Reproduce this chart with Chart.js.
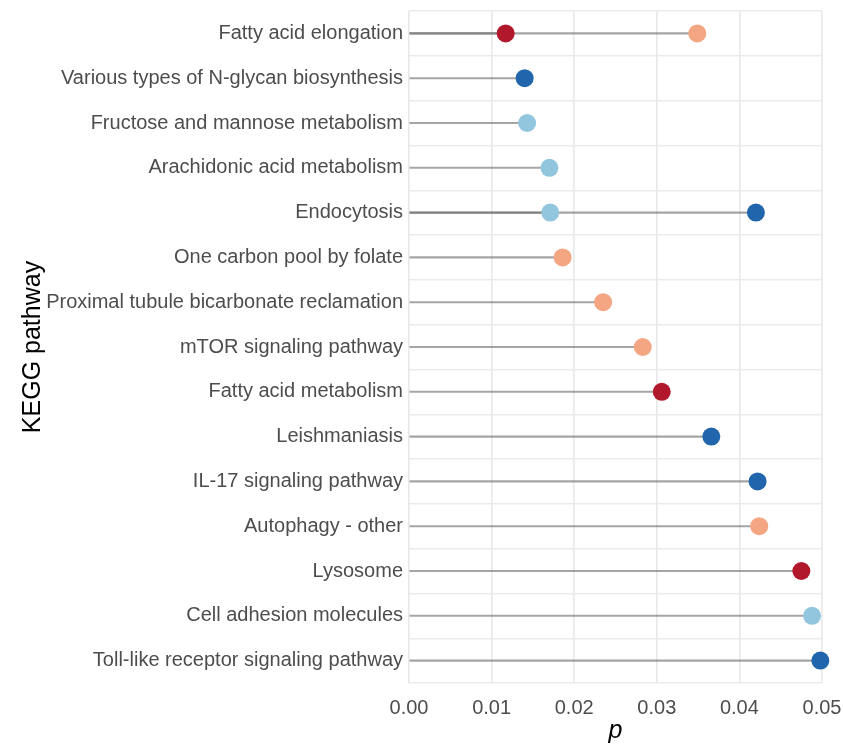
<!DOCTYPE html>
<html>
<head>
<meta charset="utf-8">
<script src="https://cdn.jsdelivr.net/npm/chart.js@4"></script>
<style>
  html, body { margin: 0; padding: 0; background: #fff; }
  canvas { display: block; }
</style>
</head>
<body>
<canvas id="lollipop" width="843" height="744"></canvas>
<script>
// ----- data -----
const pathways = [
    'Fatty acid elongation',
    'Various types of N-glycan biosynthesis',
    'Fructose and mannose metabolism',
    'Arachidonic acid metabolism',
    'Endocytosis',
    'One carbon pool by folate',
    'Proximal tubule bicarbonate reclamation',
    'mTOR signaling pathway',
    'Fatty acid metabolism',
    'Leishmaniasis',
    'IL-17 signaling pathway',
    'Autophagy - other',
    'Lysosome',
    'Cell adhesion molecules',
    'Toll-like receptor signaling pathway'
];

// one array per point colour, null = no point in that row
const p_darkred   = [0.0117, null, null, null, null, null, null, null, 0.0306, null, null, null, 0.0475, null, null];
const p_salmon    = [0.0349, null, null, null, null, 0.0186, 0.0235, 0.0283, null, null, null, 0.0424, null, null, null];
const p_lightblue = [null, null, 0.0143, 0.0170, 0.0171, null, null, null, null, null, null, null, null, 0.0488, null];
const p_darkblue  = [null, 0.0140, null, null, 0.0420, null, null, null, null, 0.0366, 0.0422, null, null, null, 0.0498];

const xTicks = [0, 0.01, 0.02, 0.03, 0.04, 0.05];

const groups = [
    { values: p_darkred,   color: '#B2182B' },
    { values: p_salmon,    color: '#F4A582' },
    { values: p_lightblue, color: '#92C5DE' },
    { values: p_darkblue,  color: '#2166AC' }
];

const FONT = "'Liberation Sans', Arial, Helvetica, sans-serif";

// ----- datasets: a thin floating bar from 0 (the stick) + a point (the head) -----
const datasets = [];
groups.forEach(function (g) {
    datasets.push({
        type: 'bar',
        data: g.values.map(v => v == null ? null : [0, v]),
        backgroundColor: 'rgba(110, 110, 110, 0.62)',
        borderWidth: 0,
        barThickness: 1.4,
        grouped: false,
        order: 2
    });
});
groups.forEach(function (g) {
    datasets.push({
        type: 'line',
        indexAxis: 'y',
        data: g.values,
        showLine: false,
        pointRadius: 9,
        pointHoverRadius: 9,
        pointBackgroundColor: g.color,
        pointBorderColor: g.color,
        pointBorderWidth: 0,
        clip: false,
        order: 1
    });
});

const config_lollipop = {
    type: 'bar',
    data: {
        labels: pathways,
        datasets: datasets
    },
    options: {
        indexAxis: 'y',
        responsive: false,
        animation: false,
        layout: {
            padding: { top: 11, right: 21, bottom: 0, left: 0 }
        },
        plugins: {
            legend: { display: false },
            tooltip: { enabled: false }
        },
        scales: {
            x: {
                type: 'linear',
                min: 0,
                max: 0.05,
                afterBuildTicks: function (scale) {
                    scale.ticks = xTicks.map(v => ({ value: v }));
                },
                afterFit: function (scale) {
                    scale.height = 61;
                    scale.paddingLeft = 0;
                    scale.paddingRight = 0;
                },
                border: { display: false },
                grid: {
                    color: '#E8E8E8',
                    lineWidth: 1.6,
                    drawTicks: false
                },
                ticks: {
                    color: '#4D4D4D',
                    padding: 13,
                    font: { family: FONT, size: 20 },
                    callback: v => Number(v).toFixed(2)
                },
                title: {
                    display: true,
                    text: 'p',
                    color: '#000',
                    padding: { top: 0, bottom: 0 },
                    font: { family: FONT, size: 25, style: 'italic', lineHeight: 1 }
                }
            },
            y: {
                type: 'category',
                offset: true,
                afterFit: function (scale) {
                    scale.width = 409;
                    scale.paddingTop = 0;
                    scale.paddingBottom = 0;
                },
                border: { display: false },
                grid: {
                    offset: true,
                    color: '#EBEBEB',
                    lineWidth: 1.4,
                    drawTicks: false
                },
                ticks: {
                    color: '#4D4D4D',
                    padding: 6,
                    autoSkip: false,
                    font: { family: FONT, size: 20 }
                },
                title: {
                    display: true,
                    text: 'KEGG pathway',
                    color: '#000',
                    padding: { top: 21, bottom: 0 },
                    font: { family: FONT, size: 25, lineHeight: 1 }
                }
            }
        }
    }
};

var lollipop = new Chart(
    document.getElementById('lollipop'),
    config_lollipop
);
</script>
</body>
</html>
